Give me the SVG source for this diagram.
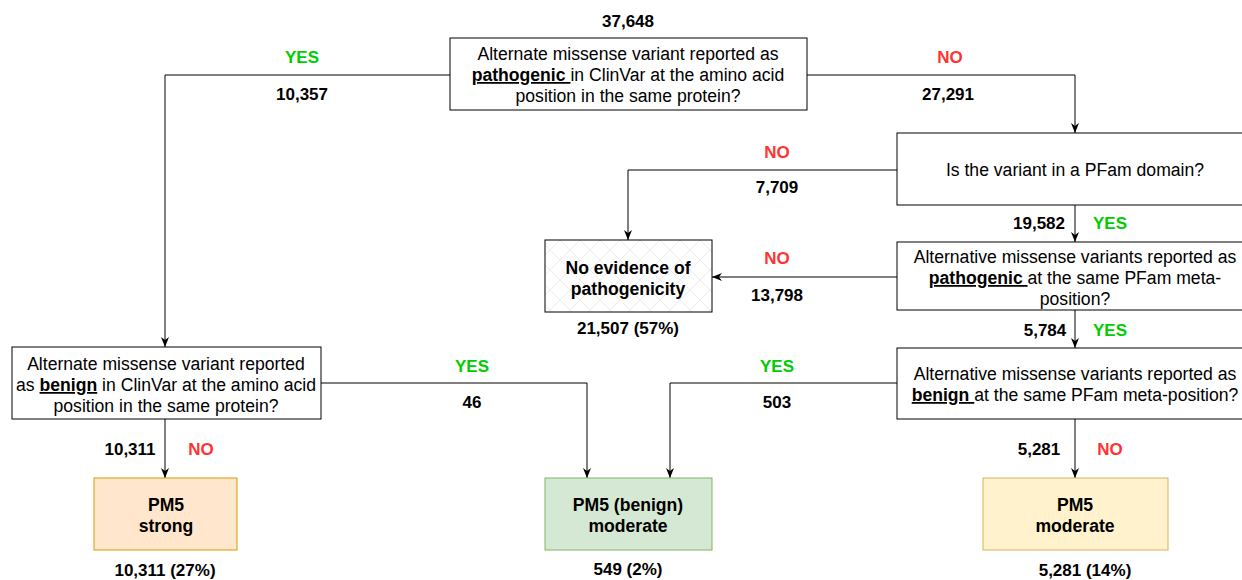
<svg xmlns="http://www.w3.org/2000/svg" width="1242" height="580" viewBox="0 0 1242 580">
<defs>
<style>
text{font-family:"Liberation Sans",Arial,sans-serif;font-size:17.6px;fill:#000;text-anchor:middle}
.b{font-weight:bold}
.l{font-weight:bold;font-size:17px}
.yes{font-weight:bold;font-size:17px;fill:#00CC00}
.no{font-weight:bold;font-size:17px;fill:#FF3333}
.u{font-weight:bold;text-decoration:underline}
.box{fill:#fff;stroke:#000;stroke-width:1}
.conn{fill:none;stroke:#000;stroke-width:1}
</style>
<marker id="arr" viewBox="0 0 10 10" refX="10" refY="5" markerWidth="10" markerHeight="10" markerUnits="userSpaceOnUse" orient="auto">
<path d="M0,1 L10,5 L0,9 L3,5 Z" fill="#000"/>
</marker>
<pattern id="hatch" width="20" height="20" patternUnits="userSpaceOnUse">
<rect width="20" height="20" fill="#fff"/>
<path d="M0,0 L20,20 M20,0 L0,20" stroke="#ececec" stroke-width="1"/>
</pattern>
</defs>
<rect width="1242" height="580" fill="#fff"/>

<g id="connectors">
<path class="conn" d="M450,75 H165 V347" marker-end="url(#arr)"/>
<path class="conn" d="M807,75 H1075 V133" marker-end="url(#arr)"/>
<path class="conn" d="M897,170 H628 V240" marker-end="url(#arr)"/>
<path class="conn" d="M1075,205 V242" marker-end="url(#arr)"/>
<path class="conn" d="M897,277 H712" marker-end="url(#arr)"/>
<path class="conn" d="M1075,310 V348" marker-end="url(#arr)"/>
<path class="conn" d="M897,383 H670 V478" marker-end="url(#arr)"/>
<path class="conn" d="M1075,419 V478" marker-end="url(#arr)"/>
<path class="conn" d="M321,383 H587 V478" marker-end="url(#arr)"/>
<path class="conn" d="M165,419 V478" marker-end="url(#arr)"/>
</g>

<g id="labels">
<text class="l" x="628" y="27">37,648</text>
<text class="yes" x="302" y="63">YES</text>
<text class="l" x="302" y="100">10,357</text>
<text class="no" x="950" y="63">NO</text>
<text class="l" x="948" y="100">27,291</text>
<text class="no" x="777" y="158">NO</text>
<text class="l" x="777" y="193">7,709</text>
<text class="l" x="1039" y="229">19,582</text>
<text class="yes" x="1110" y="229">YES</text>
<text class="no" x="777" y="264">NO</text>
<text class="l" x="777" y="301">13,798</text>
<text class="l" x="628" y="334">21,507 (57%)</text>
<text class="l" x="1045" y="336">5,784</text>
<text class="yes" x="1110" y="336">YES</text>
<text class="yes" x="472" y="372">YES</text>
<text class="l" x="472" y="408">46</text>
<text class="yes" x="777" y="372">YES</text>
<text class="l" x="777" y="408">503</text>
<text class="l" x="130" y="455">10,311</text>
<text class="no" x="201" y="455">NO</text>
<text class="l" x="1039" y="455">5,281</text>
<text class="no" x="1110" y="455">NO</text>
<text class="l" x="165" y="576">10,311 (27%)</text>
<text class="l" x="628" y="575">549 (2%)</text>
<text class="l" x="1085" y="576">5,281 (14%)</text>
</g>

<g id="q-clinvar-pathogenic">
<rect class="box" x="450" y="38" width="357" height="72"/>
<text x="628" y="60">Alternate missense variant reported as</text>
<text x="628" y="81"><tspan class="u">pathogenic </tspan>in ClinVar at the amino acid</text>
<text x="628" y="102">position in the same protein?</text>
</g>

<g id="q-pfam-domain">
<rect class="box" x="897" y="133" width="356" height="72"/>
<text x="1075" y="176">Is the variant in a PFam domain?</text>
</g>

<g id="q-pfam-pathogenic">
<rect class="box" x="897" y="242" width="356" height="68"/>
<text x="1075" y="263">Alternative missense variants reported as</text>
<text x="1075" y="284"><tspan class="u">pathogenic </tspan>at the same PFam meta-</text>
<text x="1075" y="305">position?</text>
</g>

<g id="no-evidence">
<rect x="545" y="240" width="167" height="72" fill="url(#hatch)" stroke="#000"/>
<text class="b" x="628" y="274">No evidence of</text>
<text class="b" x="628" y="295">pathogenicity</text>
</g>

<g id="q-clinvar-benign">
<rect class="box" x="12" y="347" width="309" height="72"/>
<text x="166" y="370">Alternate missense variant reported</text>
<text x="166" y="391">as <tspan class="u">benign</tspan> in ClinVar at the amino acid</text>
<text x="166" y="412">position in the same protein?</text>
</g>

<g id="q-pfam-benign">
<rect class="box" x="897" y="348" width="356" height="71"/>
<text x="1075" y="380">Alternative missense variants reported as</text>
<text x="1075" y="401"><tspan class="u">benign </tspan>at the same PFam meta-position?</text>
</g>

<g id="pm5-strong">
<rect x="94" y="478" width="143" height="72" fill="#ffe6cc" stroke="#d79b00"/>
<text class="b" x="166" y="511">PM5</text>
<text class="b" x="166" y="532">strong</text>
</g>

<g id="pm5-benign-moderate">
<rect x="545" y="478" width="167" height="72" fill="#d5e8d4" stroke="#82b366"/>
<text class="b" x="628" y="511">PM5 (benign)</text>
<text class="b" x="628" y="532">moderate</text>
</g>

<g id="pm5-moderate">
<rect x="983" y="478" width="185" height="72" fill="#fff2cc" stroke="#d6b656"/>
<text class="b" x="1075" y="511">PM5</text>
<text class="b" x="1075" y="532">moderate</text>
</g>
</svg>
